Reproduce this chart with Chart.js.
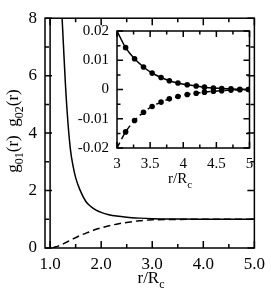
<!DOCTYPE html>
<html>
<head>
<meta charset="utf-8">
<script src="https://cdn.jsdelivr.net/npm/chart.js@4.4.1/dist/chart.umd.min.js"></script>
<style>
  html, body { margin: 0; padding: 0; background: #fff; }
  #wrap { position: relative; width: 271px; height: 297px; }
  #main { position: absolute; left: 0; top: 0; }
  #inset { position: absolute; left: 75px; top: 14px; }
</style>
</head>
<body>
<div id="wrap">
  <canvas id="main" width="271" height="297"></canvas>
  <canvas id="inset" width="190" height="190"></canvas>
</div>
<script>
// ============================================================================
// DATA
// ============================================================================
// g02(r) - solid curve
const r02 = [1.235, 1.26, 1.30, 1.35, 1.40, 1.45, 1.50, 1.58, 1.70, 1.80, 1.90, 2.00, 2.15, 2.30, 2.50, 2.75, 3.00, 3.50, 4.00, 4.50, 5.00];
const g02 = [8.0, 7.1, 5.7, 4.35, 3.4, 2.85, 2.45, 2.04, 1.62, 1.44, 1.32, 1.24, 1.16, 1.11, 1.07, 1.04, 1.02, 1.006, 1.0015, 1.0004, 1.0];

// g01(r) - dashed curve
const r01 = [1.05, 1.20, 1.33, 1.45, 1.58, 1.75, 1.90, 2.10, 2.30, 2.50, 2.75, 3.00, 3.50, 4.00, 5.00];
const g01 = [0, 0.10, 0.21, 0.32, 0.43, 0.55, 0.65, 0.75, 0.83, 0.89, 0.95, 0.98, 0.995, 0.999, 1.0];

// contact line at r = Rc
const contactR = [1.0, 1.0];
const contactG = [0, 8];

// inset: g(r) - 1, simulation points and curves
const insetR = [3.13, 3.265, 3.40, 3.53, 3.665, 3.79, 3.92, 4.06, 4.195, 4.32, 4.455, 4.58, 4.72, 4.855, 4.985];
const insetUp = [0.0143, 0.0105, 0.0077, 0.0056, 0.0041, 0.0030, 0.0022, 0.0016, 0.0012, 0.0008, 0.0005, 0.0003, 0.0002, 0.0001, 0.0000];
const insetDown = [-0.0145, -0.0106, -0.0078, -0.0058, -0.0043, -0.0032, -0.0024, -0.0017, -0.0013, -0.0009, -0.0006, -0.0004, -0.0002, -0.0001, 0.0000];
const insetStartR = 3.0;
const insetStartUp = 0.02;
const insetStartDown = -0.02;

// tick positions
const mainXTicks = [1, 1.5, 2, 2.5, 3, 3.5, 4, 4.5, 5];
const mainYTicks = [0, 1, 2, 3, 4, 5, 6, 7, 8];
const insetXTicks = [3, 3.25, 3.5, 3.75, 4, 4.25, 4.5, 4.75, 5];
const insetYTicks = [-0.02, -0.015, -0.01, -0.005, 0, 0.005, 0.01, 0.015, 0.02];


// ============================================================================
// HELPERS
// ============================================================================
const FONT = '"Liberation Serif", "Times New Roman", serif';

const pts = (xs, ys) => xs.map((x, i) => ({ x, y: ys[i] }));
const isMult = (v, step) => Math.abs(v / step - Math.round(v / step)) < 1e-6;

// draws text pieces (with subscripts) centred on cx, baseline cy
function drawParts(ctx, parts, cx, cy) {
    let w = 0;
    parts.forEach(p => {
        ctx.font = p.size + 'px ' + FONT;
        p.w = ctx.measureText(p.t).width;
        w += p.w;
    });
    let x = cx - w / 2;
    ctx.fillStyle = '#000';
    ctx.textBaseline = 'alphabetic';
    ctx.textAlign = 'left';
    parts.forEach(p => {
        ctx.font = p.size + 'px ' + FONT;
        ctx.fillText(p.t, x, cy + (p.dy || 0));
        x += p.w;
    });
}


// ============================================================================
// PLUGINS - box with inward ticks, axis titles
// ============================================================================
const frame = {
    id: 'frame',
    afterDatasetsDraw(chart, args, o) {
        const { ctx, chartArea: a, scales: { x, y } } = chart;
        ctx.save();
        ctx.strokeStyle = '#000';
        ctx.lineWidth = o.lw;
        ctx.strokeRect(a.left, a.top, a.right - a.left, a.bottom - a.top);
        ctx.beginPath();
        x.ticks.forEach(t => {
            const px = x.getPixelForValue(t.value);
            const len = isMult(t.value, o.xStep) ? o.big : o.small;
            ctx.moveTo(px, a.bottom); ctx.lineTo(px, a.bottom - len);
            ctx.moveTo(px, a.top); ctx.lineTo(px, a.top + len);
        });
        y.ticks.forEach(t => {
            const py = y.getPixelForValue(t.value);
            const len = isMult(t.value, o.yStep) ? o.big : o.small;
            ctx.moveTo(a.left, py); ctx.lineTo(a.left + len, py);
            ctx.moveTo(a.right, py); ctx.lineTo(a.right - len, py);
        });
        ctx.stroke();
        ctx.restore();
    }
};

const titles = {
    id: 'titles',
    afterDraw(chart, args, o) {
        const ctx = chart.ctx;
        ctx.save();
        if (o.x) drawParts(ctx, o.x.parts, o.x.cx, o.x.cy);
        if (o.y) {
            ctx.translate(o.y.cx, o.y.cy);
            ctx.rotate(-Math.PI / 2);
            drawParts(ctx, o.y.parts, 0, 0);
        }
        ctx.restore();
    }
};


// ============================================================================
// MAIN CHART
// ============================================================================
new Chart(document.getElementById('main'), {
    type: 'scatter',
    data: {
        datasets: [
            { data: pts(r02, g02), showLine: true, borderColor: '#000', borderWidth: 1.5, pointRadius: 0, cubicInterpolationMode: 'monotone' },
            { data: pts(r01, g01), showLine: true, borderColor: '#000', borderWidth: 1.5, borderDash: [7, 4], pointRadius: 0, cubicInterpolationMode: 'monotone' },
            { data: pts(contactR, contactG), showLine: true, borderColor: '#000', borderWidth: 1.5, pointRadius: 0 }
        ]
    },
    options: {
        responsive: false,
        animation: false,
        events: [],
        layout: { padding: { left: 0, right: 13, top: 8, bottom: 0 } },
        plugins: {
            legend: { display: false },
            tooltip: { enabled: false },
            frame: { lw: 1.5, big: 7, small: 4, xStep: 1, yStep: 2 },
            titles: {
                x: { cx: 151, cy: 283, parts: [{ t: 'r/R', size: 17 }, { t: 'c', size: 12, dy: 5 }] },
                y: { cx: 18, cy: 131, parts: [
                    { t: 'g', size: 17 }, { t: '01', size: 12, dy: 5 }, { t: '(r)', size: 17 },
                    { t: '  ', size: 17 },
                    { t: 'g', size: 17 }, { t: '02', size: 12, dy: 5 }, { t: '(r)', size: 17 }
                ] }
            }
        },
        scales: {
            x: {
                type: 'linear', min: 0.9, max: 5.0,
                afterBuildTicks: s => { s.ticks = mainXTicks.map(v => ({ value: v })); },
                afterFit: s => { s.height = 49; },
                grid: { display: false, drawTicks: false },
                border: { display: false },
                ticks: {
                    autoSkip: false, maxRotation: 0, padding: 6, color: '#000',
                    font: { family: FONT, size: 17 },
                    callback: v => isMult(v, 1) ? v.toFixed(1) : ''
                }
            },
            y: {
                type: 'linear', min: 0, max: 8,
                afterBuildTicks: s => { s.ticks = mainYTicks.map(v => ({ value: v })); },
                afterFit: s => { s.width = 45; },
                grid: { display: false, drawTicks: false },
                border: { display: false },
                ticks: {
                    autoSkip: false, padding: 8, color: '#000',
                    font: { family: FONT, size: 17 },
                    callback: v => isMult(v, 2) ? String(v) : ''
                }
            }
        }
    },
    plugins: [frame, titles]
});


// ============================================================================
// INSET
// ============================================================================
new Chart(document.getElementById('inset'), {
    type: 'scatter',
    data: {
        datasets: [
            { data: pts([insetStartR, ...insetR], [insetStartUp, ...insetUp]), showLine: true, borderColor: '#000', borderWidth: 1.5, pointRadius: 0, cubicInterpolationMode: 'monotone' },
            { data: pts([insetStartR, ...insetR], [insetStartDown, ...insetDown]), showLine: true, borderColor: '#000', borderWidth: 1.5, borderDash: [6, 4], pointRadius: 0, cubicInterpolationMode: 'monotone' },
            { data: pts(insetR, insetUp), showLine: false, pointRadius: 2.8, pointBackgroundColor: '#000', pointBorderWidth: 0 },
            { data: pts(insetR, insetDown), showLine: false, pointRadius: 2.8, pointBackgroundColor: '#000', pointBorderWidth: 0 }
        ]
    },
    options: {
        responsive: false,
        animation: false,
        events: [],
        layout: { padding: { left: 0, right: 15.5, top: 10, bottom: 0 } },
        plugins: {
            legend: { display: false },
            tooltip: { enabled: false },
            frame: { lw: 1.5, big: 6, small: 3.5, xStep: 0.5, yStep: 0.01 },
            titles: {
                x: { cx: 105, cy: 169, parts: [{ t: 'r/R', size: 15 }, { t: 'c', size: 11, dy: 5 }] }
            }
        },
        scales: {
            x: {
                type: 'linear', min: 3, max: 5,
                afterBuildTicks: s => { s.ticks = insetXTicks.map(v => ({ value: v })); },
                afterFit: s => { s.height = 56; },
                grid: { display: false, drawTicks: false },
                border: { display: false },
                ticks: {
                    autoSkip: false, maxRotation: 0, padding: 7, color: '#000',
                    font: { family: FONT, size: 15 },
                    callback: v => isMult(v, 0.5) ? String(v) : ''
                }
            },
            y: {
                type: 'linear', min: -0.02, max: 0.02,
                afterBuildTicks: s => { s.ticks = insetYTicks.map(v => ({ value: v })); },
                afterFit: s => { s.width = 42; },
                grid: { display: false, drawTicks: false },
                border: { display: false },
                ticks: {
                    autoSkip: false, padding: 8, color: '#000',
                    font: { family: FONT, size: 15 },
                    callback: v => isMult(v, 0.01) ? (Math.abs(v) < 1e-9 ? '0' : v.toFixed(2)) : ''
                }
            }
        }
    },
    plugins: [frame, titles]
});
</script>
</body>
</html>
